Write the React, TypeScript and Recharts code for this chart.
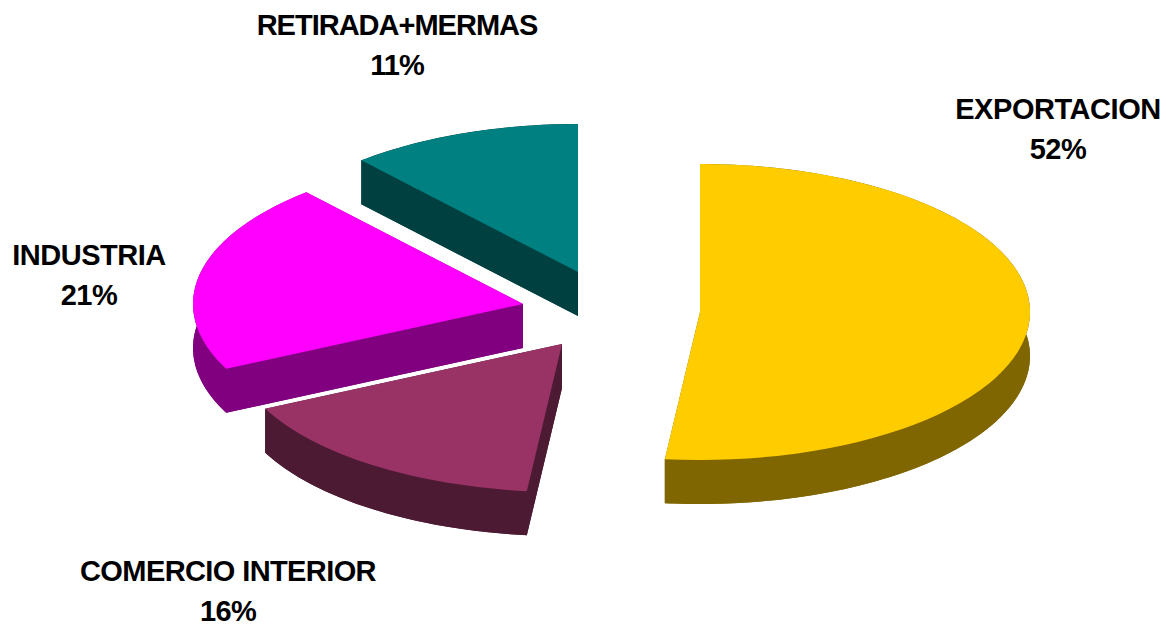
import { PieChart, Pie } from 'recharts';

const categories = ['EXPORTACION', 'COMERCIO INTERIOR', 'INDUSTRIA', 'RETIRADA+MERMAS'];
const shares = [51.7, 16.1, 20.8, 11.4];
const shareLabels = ['52%', '16%', '21%', '11%'];
const topColors = ['#FFCC00', '#993366', '#FF00FF', '#008080'];
const sideColors = ['#806600', '#4D1A33', '#800080', '#004040'];

const data = categories.map((name, i) => ({ name, value: shares[i] }));

// how far each slice is pulled away from the pie centre
const explode = [
    [0, 0],
    [-138, 32],
    [-177, -8],
    [-122, -40],
];
// label centres, first line baseline
const labelSpots = [
    [1058, 119],
    [228, 581],
    [89, 265],
    [397, 35],
];
const labelSpacing = [-0.45, -0.6, -0.5, -1];

const FLATTEN = 148 / 330;
const DEPTH = 44;

function SliceShape(props: any) {
    const { cx, cy, outerRadius, startAngle, endAngle, index } = props;
    const [dx, dy] = explode[index];
    const x0 = cx + dx;
    const y0 = cy + dy;
    const rx = outerRadius;
    const ry = outerRadius * FLATTEN;
    const rad = Math.PI / 180;
    const px = (a: number) => x0 + rx * Math.cos(a * rad);
    const py = (a: number) => y0 - ry * Math.sin(a * rad);
    const large = Math.abs(endAngle - startAngle) > 180 ? 1 : 0;

    const wedge = (off: number) =>
        `M${x0},${y0 + off}L${px(startAngle)},${py(startAngle) + off}` +
        `A${rx},${ry} 0 ${large} 1 ${px(endAngle)},${py(endAngle) + off}Z`;

    // walls: every quad down the depth, then the lower wedge, top goes on last
    const steps: string[] = [];
    const lo = Math.min(startAngle, endAngle);
    const hi = Math.max(startAngle, endAngle);
    for (let a = lo; a < hi; a += 1) {
        const b = Math.min(a + 1, hi);
        steps.push(
            `M${px(a)},${py(a)}L${px(b)},${py(b)}L${px(b)},${py(b) + DEPTH}L${px(a)},${py(a) + DEPTH}Z`
        );
    }
    const cut = (a: number) =>
        `M${x0},${y0}L${px(a)},${py(a)}L${px(a)},${py(a) + DEPTH}L${x0},${y0 + DEPTH}Z`;

    const side = sideColors[index];
    return (
        <g>
            <path d={wedge(DEPTH)} fill={side} stroke="none" />
            <path d={steps.join('')} fill={side} stroke="none" />
            <path d={cut(startAngle)} fill={side} stroke="none" />
            <path d={cut(endAngle)} fill={side} stroke="none" />
            <path d={wedge(0)} fill={topColors[index]} stroke="none" />
        </g>
    );
}

function SliceLabel(props: any) {
    const { index, name } = props;
    const [x, y] = labelSpots[index];
    const style = {
        fontFamily: '"Liberation Sans", Arial, sans-serif',
        fontWeight: 700,
        fontSize: 29,
        letterSpacing: labelSpacing[index],
    };
    return (
        <g>
            <text x={x} y={y} textAnchor="middle" fill="#000" style={style}>
                {name}
            </text>
            <text x={x} y={y + 40} textAnchor="middle" fill="#000" style={style}>
                {shareLabels[index]}
            </text>
        </g>
    );
}

export default function App() {
    return (
        <div style={{ position: 'absolute', left: 0, top: 0, width: 1166, height: 626, background: '#fff' }}>
            <PieChart width={1166} height={626} margin={{ top: 0, right: 0, bottom: 0, left: 0 }}>
                <Pie
                    data={data}
                    dataKey="value"
                    nameKey="name"
                    cx={700}
                    cy={312}
                    innerRadius={0}
                    outerRadius={330}
                    startAngle={90}
                    endAngle={-270}
                    paddingAngle={0}
                    stroke="none"
                    shape={SliceShape}
                    label={SliceLabel}
                    labelLine={false}
                    isAnimationActive={false}
                />
            </PieChart>
        </div>
    );
}
